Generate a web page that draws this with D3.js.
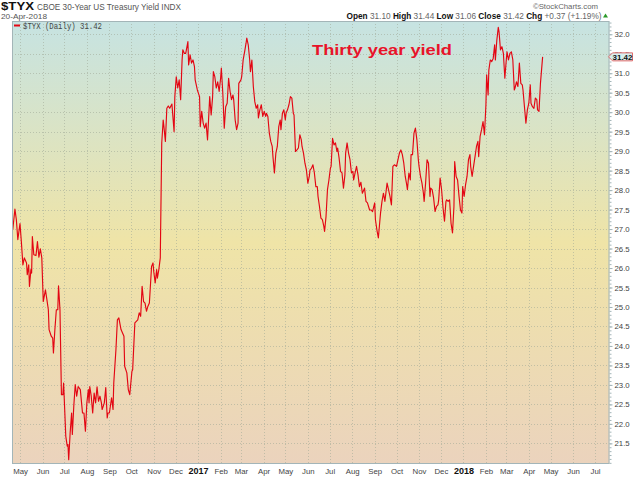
<!DOCTYPE html>
<html><head><meta charset="utf-8">
<script src="https://cdn.jsdelivr.net/npm/d3@7"></script>
<style>
html,body{margin:0;padding:0;background:#fff;}
svg{display:block;font-family:"Liberation Sans",Arial,sans-serif;}
</style>
</head><body>
<svg id="chart" width="640" height="477"></svg>
<script>
// ---------- DATA ----------
const series = [
["2016-04-21",26.98],["2016-04-24",27.51],["2016-04-26",27.24],["2016-04-28",26.73],["2016-05-01",27.14],
["2016-05-03",26.64],["2016-05-05",26.08],["2016-05-07",26.26],["2016-05-10",26.13],["2016-05-11",25.83],
["2016-05-13",26.08],["2016-05-14",25.53],["2016-05-16",25.96],["2016-05-17",25.87],["2016-05-18",26.81],
["2016-05-20",26.34],["2016-05-23",26.32],["2016-05-25",26.68],["2016-05-27",26.28],["2016-05-29",26.49],
["2016-05-31",26.26],["2016-06-02",25.14],["2016-06-05",25.44],["2016-06-07",25.19],["2016-06-09",24.93],
["2016-06-10",24.42],["2016-06-13",24.25],["2016-06-15",24.20],["2016-06-16",23.82],["2016-06-18",24.42],
["2016-06-20",24.93],["2016-06-22",24.93],["2016-06-23",25.54],["2016-06-25",24.93],["2016-06-27",22.75],
["2016-06-29",22.75],["2016-06-30",23.05],["2016-07-03",21.68],["2016-07-05",21.43],["2016-07-06",21.47],
["2016-07-07",21.08],["2016-07-09",21.77],["2016-07-11",22.28],["2016-07-12",21.73],["2016-07-14",22.45],
["2016-07-16",23.01],["2016-07-18",22.71],["2016-07-20",22.96],["2016-07-23",22.88],["2016-07-26",22.28],
["2016-07-28",22.28],["2016-07-30",21.81],["2016-08-01",22.54],["2016-08-03",22.88],["2016-08-04",22.54],
["2016-08-05",22.96],["2016-08-07",22.71],["2016-08-09",22.28],["2016-08-11",22.79],["2016-08-13",22.54],
["2016-08-15",22.95],["2016-08-17",22.58],["2016-08-19",22.71],["2016-08-21",22.54],["2016-08-22",22.37],
["2016-08-25",22.54],["2016-08-27",22.93],["2016-08-29",22.15],["2016-08-30",22.28],["2016-09-01",22.28],
["2016-09-04",22.67],["2016-09-06",22.37],["2016-09-07",23.05],["2016-09-10",23.91],["2016-09-12",24.67],
["2016-09-14",24.72],["2016-09-17",24.42],["2016-09-21",24.25],["2016-09-22",23.48],["2016-09-25",23.31],
["2016-09-27",22.88],["2016-09-29",22.75],["2016-10-02",23.35],["2016-10-03",23.39],["2016-10-06",24.59],
["2016-10-08",24.63],["2016-10-10",24.67],["2016-10-12",24.85],["2016-10-14",24.76],["2016-10-16",25.53],
["2016-10-18",25.14],["2016-10-20",25.10],["2016-10-22",24.89],["2016-10-24",25.02],["2016-10-26",25.10],
["2016-10-29",26.04],["2016-10-31",26.13],["2016-11-01",25.91],["2016-11-03",25.62],["2016-11-05",25.96],
["2016-11-06",25.74],["2016-11-08",25.96],["2016-11-10",26.26],["2016-11-12",29.21],["2016-11-14",29.80],
["2016-11-15",29.63],["2016-11-17",29.25],["2016-11-19",30.10],["2016-11-21",30.16],["2016-11-23",30.10],
["2016-11-26",30.21],["2016-11-27",29.97],["2016-11-29",29.50],["2016-11-30",30.40],["2016-12-02",30.91],
["2016-12-04",30.62],["2016-12-06",30.83],["2016-12-08",30.32],["2016-12-10",31.34],["2016-12-11",31.60],
["2016-12-13",31.51],["2016-12-15",31.51],["2016-12-18",31.81],["2016-12-19",31.21],["2016-12-21",31.47],
["2016-12-23",31.26],["2016-12-25",31.34],["2016-12-27",31.17],["2016-12-28",30.83],["2016-12-31",30.57],
["2017-01-03",30.40],["2017-01-04",29.63],["2017-01-06",30.02],["2017-01-08",29.72],["2017-01-10",29.59],
["2017-01-12",29.72],["2017-01-14",29.29],["2017-01-16",30.02],["2017-01-17",30.40],["2017-01-19",29.93],
["2017-01-21",30.40],["2017-01-22",31.04],["2017-01-24",30.91],["2017-01-26",30.62],["2017-01-28",30.78],
["2017-01-30",30.53],["2017-02-01",30.87],["2017-02-02",31.13],["2017-02-04",30.49],["2017-02-06",29.59],
["2017-02-08",30.14],["2017-02-10",30.23],["2017-02-12",30.87],["2017-02-14",30.53],["2017-02-16",30.32],
["2017-02-18",30.44],["2017-02-19",30.32],["2017-02-21",29.80],["2017-02-23",29.55],["2017-02-25",29.72],
["2017-02-26",30.74],["2017-03-01",30.83],["2017-03-02",30.91],["2017-03-04",31.34],["2017-03-06",31.55],
["2017-03-08",31.77],["2017-03-09",31.90],["2017-03-11",31.73],["2017-03-13",31.34],["2017-03-14",31.04],
["2017-03-16",31.34],["2017-03-18",30.66],["2017-03-20",30.27],["2017-03-22",30.10],["2017-03-24",30.19],
["2017-03-25",29.85],["2017-03-27",30.06],["2017-03-29",30.19],["2017-03-31",29.89],["2017-04-02",30.02],
["2017-04-04",29.89],["2017-04-05",29.97],["2017-04-07",29.89],["2017-04-09",29.46],["2017-04-11",29.25],
["2017-04-13",29.12],["2017-04-14",28.86],["2017-04-16",28.44],["2017-04-18",28.95],["2017-04-20",29.12],
["2017-04-22",29.63],["2017-04-24",29.80],["2017-04-25",29.55],["2017-04-27",29.97],["2017-04-29",30.06],
["2017-05-01",29.80],["2017-05-02",29.97],["2017-05-04",30.06],["2017-05-06",30.19],["2017-05-08",30.40],
["2017-05-10",30.36],["2017-05-12",29.97],["2017-05-13",29.93],["2017-05-15",28.99],["2017-05-17",29.03],
["2017-05-19",29.08],["2017-05-21",29.42],["2017-05-23",29.29],["2017-05-24",29.12],["2017-05-26",28.95],
["2017-05-28",28.69],["2017-05-30",28.52],["2017-06-01",28.18],["2017-06-03",28.35],["2017-06-04",28.52],
["2017-06-06",28.56],["2017-06-08",28.65],["2017-06-10",28.44],["2017-06-12",28.09],["2017-06-14",28.09],
["2017-06-15",27.84],["2017-06-17",27.58],["2017-06-19",27.28],["2017-06-21",27.24],["2017-06-23",27.07],
["2017-06-24",26.94],["2017-06-26",27.32],["2017-06-28",28.01],["2017-06-30",28.26],["2017-07-02",28.56],
["2017-07-03",28.61],["2017-07-05",29.33],["2017-07-07",29.16],["2017-07-09",29.21],["2017-07-11",28.99],
["2017-07-12",29.08],["2017-07-14",28.82],["2017-07-16",28.48],["2017-07-18",28.44],["2017-07-20",28.05],
["2017-07-22",28.39],["2017-07-23",28.95],["2017-07-25",29.21],["2017-07-27",28.95],["2017-07-29",28.78],
["2017-07-31",28.44],["2017-08-02",28.48],["2017-08-03",28.26],["2017-08-05",28.44],["2017-08-07",28.61],
["2017-08-09",28.39],["2017-08-11",28.09],["2017-08-13",28.20],["2017-08-15",27.92],["2017-08-18",28.05],
["2017-08-20",27.71],["2017-08-22",27.67],["2017-08-25",27.49],["2017-08-27",27.49],["2017-08-29",27.45],
["2017-09-01",27.67],["2017-09-02",27.24],["2017-09-04",26.98],["2017-09-06",26.77],["2017-09-09",27.41],
["2017-09-11",27.71],["2017-09-13",27.92],["2017-09-15",27.71],["2017-09-18",28.18],["2017-09-20",28.01],
["2017-09-22",27.84],["2017-09-24",27.62],["2017-09-26",28.61],["2017-09-28",28.65],["2017-10-01",28.61],
["2017-10-03",28.78],["2017-10-05",28.95],["2017-10-07",29.03],["2017-10-09",28.91],["2017-10-11",28.69],
["2017-10-13",28.35],["2017-10-15",28.14],["2017-10-16",28.01],["2017-10-18",28.44],["2017-10-20",28.26],
["2017-10-21",28.91],["2017-10-23",28.91],["2017-10-25",29.46],["2017-10-27",29.59],["2017-10-29",29.29],
["2017-10-31",28.78],["2017-11-01",28.61],["2017-11-03",28.35],["2017-11-05",28.18],["2017-11-07",27.92],
["2017-11-08",27.71],["2017-11-10",28.18],["2017-11-12",28.78],["2017-11-14",28.69],["2017-11-16",27.84],
["2017-11-17",28.05],["2017-11-19",28.01],["2017-11-21",27.80],["2017-11-23",27.45],["2017-11-25",27.58],
["2017-11-27",27.62],["2017-11-28",27.75],["2017-11-30",28.31],["2017-12-02",28.01],["2017-12-04",27.54],
["2017-12-06",27.20],["2017-12-08",27.71],["2017-12-09",27.75],["2017-12-11",27.71],["2017-12-13",27.75],
["2017-12-15",27.15],["2017-12-17",26.90],["2017-12-19",27.58],["2017-12-20",28.73],["2017-12-22",28.35],
["2017-12-24",28.26],["2017-12-26",27.84],["2017-12-28",27.49],["2017-12-30",27.41],["2017-12-31",28.09],
["2018-01-02",27.84],["2018-01-04",28.14],["2018-01-06",28.35],["2018-01-08",28.78],["2018-01-10",28.91],
["2018-01-11",28.61],["2018-01-13",28.35],["2018-01-15",28.61],["2018-01-17",28.86],["2018-01-19",29.12],
["2018-01-21",29.25],["2018-01-22",28.86],["2018-01-24",29.38],["2018-01-26",29.55],["2018-01-28",29.76],
["2018-01-30",29.42],["2018-02-01",30.19],["2018-02-02",30.96],["2018-02-04",30.44],["2018-02-05",31.08],
["2018-02-07",31.34],["2018-02-09",31.30],["2018-02-11",31.38],["2018-02-13",31.73],["2018-02-14",31.34],
["2018-02-16",31.85],["2018-02-18",32.18],["2018-02-19",32.07],["2018-02-21",31.60],["2018-02-23",31.68],
["2018-02-25",31.51],["2018-02-27",30.87],["2018-03-01",31.34],["2018-03-02",31.55],["2018-03-04",31.34],
["2018-03-06",31.51],["2018-03-08",31.55],["2018-03-10",31.34],["2018-03-12",30.57],["2018-03-13",30.62],
["2018-03-15",30.78],["2018-03-17",30.66],["2018-03-19",31.26],["2018-03-21",30.74],["2018-03-23",30.70],
["2018-03-24",30.57],["2018-03-26",30.14],["2018-03-28",29.72],["2018-03-30",30.06],["2018-04-01",30.23],
["2018-04-03",30.70],["2018-04-04",30.23],["2018-04-06",30.14],["2018-04-08",30.10],["2018-04-10",30.36],
["2018-04-12",30.32],["2018-04-13",30.06],["2018-04-15",30.02],["2018-04-17",30.74],["2018-04-20",31.42]
];

const yTicks = [21.5,22.0,22.5,23.0,23.5,24.0,24.5,25.0,25.5,26.0,26.5,27.0,27.5,28.0,28.5,29.0,29.5,30.0,30.5,31.0,31.5,32.0];
const monthTicks = ["2016-05-01","2016-06-01","2016-07-01","2016-08-01","2016-09-01","2016-10-01","2016-11-01","2016-12-01",
  "2017-01-01","2017-02-01","2017-03-01","2017-04-01","2017-05-01","2017-06-01","2017-07-01","2017-08-01","2017-09-01",
  "2017-10-01","2017-11-01","2017-12-01","2018-01-01","2018-02-01","2018-03-01","2018-04-01","2018-05-01","2018-06-01","2018-07-01"];
const monthLabels = ["May","Jun","Jul","Aug","Sep","Oct","Nov","Dec","2017","Feb","Mar","Apr","May","Jun","Jul","Aug","Sep",
  "Oct","Nov","Dec","2018","Feb","Mar","Apr","May","Jun","Jul"];
const quoteLabels = ["Open","High","Low","Close","Chg"];
const quoteValues = ["31.10","31.44","31.06","31.42","+0.37 (+1.19%)"];
const symbol = "$TYX";
const symbolName = "CBOE 30-Year US Treasury Yield INDX";
const chartDate = "20-Apr-2018";
const legendText = "$TYX (Daily) 31.42";
const lastValue = 31.42;
const annotation = "Thirty year yield";
const xDomain = ["2016-04-20","2018-07-21"];
const yDomain = [20.97, 32.34];

// ---------- LAYOUT ----------
const L = 12, R = 609.5, T = 21, B = 464;
const parse = d3.utcParse("%Y-%m-%d");
const data = series.map(d => ({date: parse(d[0]), value: d[1]}));

const x = d3.scaleUtc().domain(xDomain.map(parse)).range([L, R]);
const y = d3.scaleLinear().domain(yDomain).range([B, T]);

const svg = d3.select("#chart");
const defs = svg.append("defs");
const grad = defs.append("linearGradient").attr("id","bg").attr("x1",0).attr("y1",0).attr("x2",0).attr("y2",1);
grad.append("stop").attr("offset","0%").attr("stop-color","#c6e3e2");
grad.append("stop").attr("offset","50%").attr("stop-color","#efe4a7");
grad.append("stop").attr("offset","100%").attr("stop-color","#ebd3bd");
defs.append("clipPath").attr("id","clip").append("rect").attr("x",L).attr("y",T).attr("width",R-L).attr("height",B-T);

svg.append("rect").attr("x",L).attr("y",T).attr("width",R-L).attr("height",B-T).attr("fill","url(#bg)");

// grid
const grid = svg.append("g").attr("stroke","#9fa896").attr("stroke-opacity",0.55).attr("stroke-dasharray","1,2").attr("stroke-width",1);
grid.selectAll("line.h").data(yTicks).join("line")
  .attr("x1",L).attr("x2",R).attr("y1",d=>Math.round(y(d))+0.5).attr("y2",d=>Math.round(y(d))+0.5);
grid.selectAll("line.v").data(monthTicks.map(parse)).join("line")
  .attr("y1",T).attr("y2",B).attr("x1",d=>Math.round(x(d))+0.5).attr("x2",d=>Math.round(x(d))+0.5);

// line
svg.append("path").datum(data).attr("clip-path","url(#clip)")
  .attr("fill","none").attr("stroke","#e30613").attr("stroke-width",1.15).attr("stroke-linejoin","round")
  .attr("d", d3.line().x(d=>x(d.date)).y(d=>y(d.value)));

// border
svg.append("rect").attr("x",L+0.5).attr("y",T+0.5).attr("width",R-L-1).attr("height",B-T-1)
  .attr("fill","none").attr("stroke","#a3b5b8").attr("stroke-width",1);

// right axis (minor ticks then major with labels)
const minor = d3.range(210, 324).map(v => v/10);
svg.append("g").attr("transform",`translate(${R},0)`)
  .call(d3.axisRight(y).tickValues(minor).tickSize(2).tickFormat(""))
  .call(g=>g.select(".domain").remove())
  .call(g=>g.selectAll("line").attr("stroke","#a3b5b8"));
svg.append("g").attr("transform",`translate(${R},0)`)
  .call(d3.axisRight(y).tickValues(yTicks).tickSize(3).tickPadding(2).tickFormat(d3.format(".1f")))
  .call(g=>g.select(".domain").remove())
  .call(g=>g.selectAll("line").attr("stroke","#a3b5b8"))
  .call(g=>g.selectAll("text").attr("fill","#444").attr("font-size","7.8px").attr("font-family","Liberation Sans, Arial, sans-serif"));

// bottom axis
svg.append("g").attr("transform",`translate(0,${B})`)
  .call(d3.axisBottom(x).tickValues(monthTicks.map(parse)).tickSize(0).tickPadding(4).tickFormat((d,i)=>monthLabels[i]))
  .call(g=>g.select(".domain").remove())
  .call(g=>g.selectAll("text")
     .attr("font-family","Liberation Sans, Arial, sans-serif")
     .attr("font-size",(d,i)=>/^\d{4}$/.test(monthLabels[i]) ? "9px" : "7.8px")
     .attr("font-weight",(d,i)=>/^\d{4}$/.test(monthLabels[i]) ? "bold" : "normal")
     .attr("fill",(d,i)=>/^\d{4}$/.test(monthLabels[i]) ? "#111" : "#444"));

// last value tag
const ly = y(lastValue);
const tag = svg.append("g");
tag.append("path")
  .attr("d",`M${R-1},${ly} L${R+3},${ly-4} L${R+23},${ly-4} L${R+23},${ly+4} L${R+3},${ly+4} Z`)
  .attr("fill","#d6efee").attr("stroke","#e06a6a").attr("stroke-width",1);
tag.append("text").attr("x",R+13).attr("y",ly+3).attr("text-anchor","middle")
  .attr("font-size","8px").attr("font-weight","bold").attr("fill","#111").text(lastValue.toFixed(2));

// header
svg.append("text").attr("x",1).attr("y",9.5).attr("font-size","10.5px").attr("font-weight","bold")
  .attr("fill","#111").attr("textLength",33).attr("lengthAdjust","spacingAndGlyphs").text(symbol);
svg.append("text").attr("x",37).attr("y",9.8).attr("font-size","8.2px").attr("fill","#555")
  .attr("textLength",144).attr("lengthAdjust","spacingAndGlyphs").text(symbolName);
svg.append("text").attr("x",1).attr("y",19).attr("font-size","7.8px").attr("fill","#555")
  .attr("textLength",46).attr("lengthAdjust","spacingAndGlyphs").text(chartDate);
svg.append("text").attr("x",598).attr("y",9.3).attr("font-size","7.8px").attr("fill","#666").attr("text-anchor","end")
  .text("\u00A9StockCharts.com");

const q = svg.append("text").attr("x",346.5).attr("y",18.5).attr("font-size","8.4px")
  .attr("textLength",255).attr("lengthAdjust","spacingAndGlyphs");
quoteLabels.forEach((lab,i)=>{
  q.append("tspan").attr("font-weight","bold").attr("fill","#111").text((i?" ":"")+lab);
  q.append("tspan").attr("fill","#666").text(" "+quoteValues[i]);
});
svg.append("path").attr("d","M603,17.5 L608,17.5 L605.5,13.5 Z").attr("fill","#2a9a2a");

// legend
svg.append("line").attr("x1",14).attr("x2",20).attr("y1",25.5).attr("y2",25.5).attr("stroke","#e30613").attr("stroke-width",2);
svg.append("text").attr("x",23).attr("y",28.6).attr("font-family","Liberation Mono, DejaVu Sans Mono, monospace")
  .attr("font-size","8.4px").attr("fill","#444").attr("textLength",79).attr("lengthAdjust","spacingAndGlyphs").text(legendText);

// annotation
svg.append("text").attr("x",312).attr("y",54.5).attr("font-size","15px").attr("font-weight","bold")
  .attr("fill","#e8132a").attr("textLength",140).attr("lengthAdjust","spacingAndGlyphs").text(annotation);
</script>
</body></html>
